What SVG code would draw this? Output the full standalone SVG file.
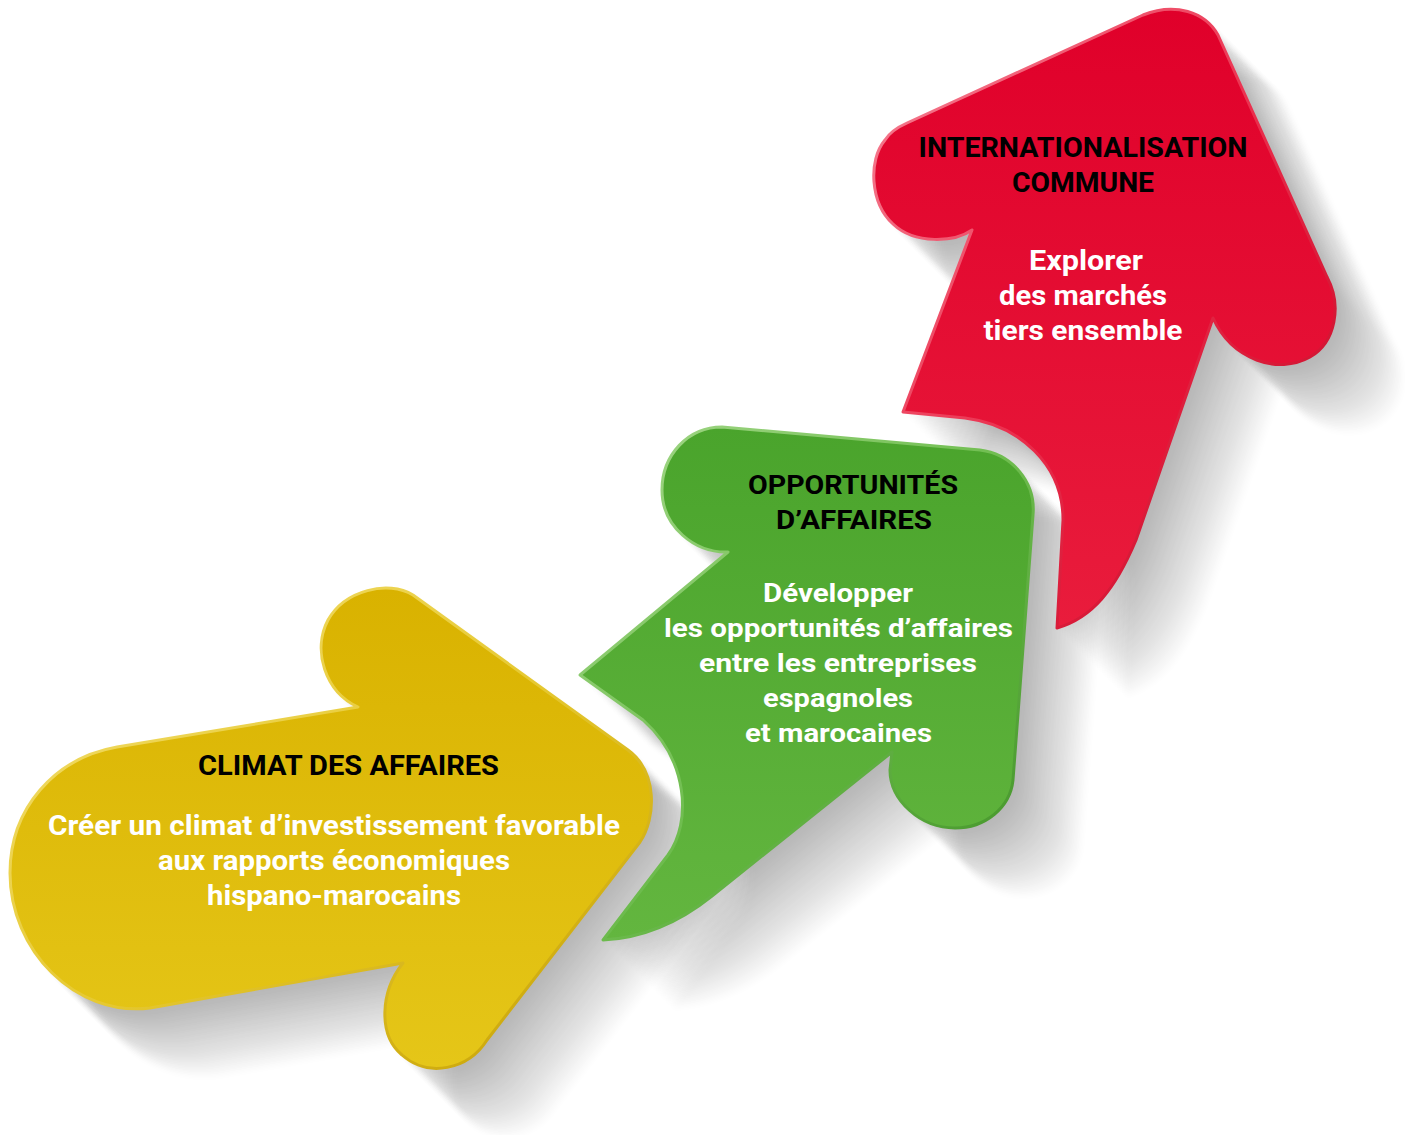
<svg xmlns="http://www.w3.org/2000/svg" xmlns:xlink="http://www.w3.org/1999/xlink" width="1405" height="1135" viewBox="0 0 1405 1135">
<style>
.t{font-family:Roboto,"Liberation Sans",sans-serif;font-weight:bold;text-anchor:middle}
.h{fill:#000;font-size:27px}
.b{fill:#fff;font-size:27px}
.gh{fill:#000;font-size:26px}
.gb{fill:#fff;font-size:26px}
</style>
<defs>
<filter id="shadow" x="-10%" y="-10%" width="140%" height="140%" color-interpolation-filters="sRGB">
<feGaussianBlur in="SourceAlpha" stdDeviation="3" result="b"/>
<feComponentTransfer in="b" result="a"><feFuncA type="linear" slope="0.026"/></feComponentTransfer>
<feOffset in="a" dx="3" dy="3" result="o1"/>
<feOffset in="a" dx="8" dy="8" result="o2"/>
<feOffset in="a" dx="13" dy="13" result="o3"/>
<feOffset in="a" dx="18" dy="18" result="o4"/>
<feOffset in="a" dx="23" dy="23" result="o5"/>
<feOffset in="a" dx="28" dy="28" result="o6"/>
<feOffset in="a" dx="33" dy="33" result="o7"/>
<feOffset in="a" dx="38" dy="38" result="o8"/>
<feOffset in="a" dx="43" dy="43" result="o9"/>
<feOffset in="a" dx="48" dy="48" result="o10"/>
<feOffset in="a" dx="53" dy="53" result="o11"/>
<feOffset in="a" dx="58" dy="58" result="o12"/>
<feOffset in="a" dx="63" dy="63" result="o13"/>
<feOffset in="a" dx="68" dy="68" result="o14"/>
<feMerge><feMergeNode in="o14"/><feMergeNode in="o13"/><feMergeNode in="o12"/><feMergeNode in="o11"/><feMergeNode in="o10"/><feMergeNode in="o9"/><feMergeNode in="o8"/><feMergeNode in="o7"/><feMergeNode in="o6"/><feMergeNode in="o5"/><feMergeNode in="o4"/><feMergeNode in="o3"/><feMergeNode in="o2"/><feMergeNode in="o1"/></feMerge>
</filter>
<linearGradient id="yf" x1="0" y1="0" x2="0" y2="1"><stop offset="0" stop-color="#d9b200"/><stop offset="1" stop-color="#e5c618"/></linearGradient>
<linearGradient id="ys" x1="0" y1="0" x2="1" y2="1"><stop offset="0" stop-color="#f5e27a"/><stop offset="0.5" stop-color="#e6c932"/><stop offset="1" stop-color="#c49e00"/></linearGradient>
<linearGradient id="gf" x1="0" y1="0" x2="0" y2="1"><stop offset="0" stop-color="#4aa42c"/><stop offset="1" stop-color="#63b63f"/></linearGradient>
<linearGradient id="gs" x1="0" y1="0" x2="1" y2="1"><stop offset="0" stop-color="#a6d98c"/><stop offset="0.5" stop-color="#6fbd4f"/><stop offset="1" stop-color="#3b8c22"/></linearGradient>
<linearGradient id="rf" x1="0" y1="0" x2="0" y2="1"><stop offset="0" stop-color="#e0002a"/><stop offset="1" stop-color="#e91c3c"/></linearGradient>
<linearGradient id="rs" x1="0" y1="0" x2="1" y2="1"><stop offset="0" stop-color="#f7889a"/><stop offset="0.5" stop-color="#ea2e4c"/><stop offset="1" stop-color="#c0001e"/></linearGradient>
<path id="py" d="M358,707 L117,747 C55,758 10,808 10,873 C10,950 75,1017 150,1008 L403,963 C380,992 378,1035 402,1055 C428,1078 468,1070 487,1040 L640,842 C656,818 658,772 628,750 L413,595 C388,580 345,590 328,620 C312,650 325,692 358,707 Z"/>
<path id="pg" d="M580,675 L728,552 C695,553 662,527 662,490 C662,455 688,427 722,427 L980,450 C1012,454 1036,482 1033,515 L1013,780 C1010,808 985,828 955,828 C920,828 890,800 890,770 L892,752 L712,896 C682,920 645,938 603,940 L668,855 C692,822 688,760 643,720 Z"/>
<path id="pr" d="M972,230 C955,242 915,245 893,224 C870,203 868,160 885,140 C890,132 898,127 907,123 L1143,15 C1175,2 1205,12 1218,35 L1327,277 C1342,305 1336,342 1310,357 C1278,375 1232,360 1213,318 L1136,540 C1115,590 1092,618 1057,628 L1063,520 C1063,465 1020,425 965,418 L903,412 Z"/>
</defs>
<g id="shadows">
<use xlink:href="#pr" href="#pr" filter="url(#shadow)"/>
<use xlink:href="#pg" href="#pg" filter="url(#shadow)"/>
<use xlink:href="#py" href="#py" filter="url(#shadow)"/>
</g>
<g id="connectors"></g>
<g id="node-internationalisation">
<use xlink:href="#pr" href="#pr" fill="url(#rf)" stroke="url(#rs)" stroke-width="3" stroke-linejoin="round"/>
<text class="t h" x="1083" y="157" textLength="329" lengthAdjust="spacingAndGlyphs">INTERNATIONALISATION</text>
<text class="t h" x="1083" y="192" textLength="142" lengthAdjust="spacingAndGlyphs">COMMUNE</text>
<text class="t b" x="1086" y="270" textLength="114" lengthAdjust="spacingAndGlyphs">Explorer</text>
<text class="t b" x="1083" y="305" textLength="168" lengthAdjust="spacingAndGlyphs">des marchés</text>
<text class="t b" x="1083" y="340" textLength="199" lengthAdjust="spacingAndGlyphs">tiers ensemble</text>
</g>
<g id="node-opportunites">
<use xlink:href="#pg" href="#pg" fill="url(#gf)" stroke="url(#gs)" stroke-width="3" stroke-linejoin="round"/>
<text class="t gh" x="853" y="494" textLength="210" lengthAdjust="spacingAndGlyphs">OPPORTUNITÉS</text>
<text class="t gh" x="854" y="529" textLength="156" lengthAdjust="spacingAndGlyphs">D’AFFAIRES</text>
<text class="t gb" x="838" y="602" textLength="150" lengthAdjust="spacingAndGlyphs">Développer</text>
<text class="t gb" x="838.5" y="637" textLength="349" lengthAdjust="spacingAndGlyphs">les opportunités d’affaires</text>
<text class="t gb" x="838" y="672" textLength="278" lengthAdjust="spacingAndGlyphs">entre les entreprises</text>
<text class="t gb" x="838" y="707" textLength="150" lengthAdjust="spacingAndGlyphs">espagnoles</text>
<text class="t gb" x="838.5" y="742" textLength="187" lengthAdjust="spacingAndGlyphs">et marocaines</text>
</g>
<g id="node-climat">
<use xlink:href="#py" href="#py" fill="url(#yf)" stroke="url(#ys)" stroke-width="3" stroke-linejoin="round"/>
<text class="t h" x="348.5" y="775" textLength="301" lengthAdjust="spacingAndGlyphs">CLIMAT DES AFFAIRES</text>
<text class="t b" x="334" y="835" textLength="572" lengthAdjust="spacingAndGlyphs">Créer un climat d’investissement favorable</text>
<text class="t b" x="334" y="870" textLength="352" lengthAdjust="spacingAndGlyphs">aux rapports économiques</text>
<text class="t b" x="334" y="905" textLength="254" lengthAdjust="spacingAndGlyphs">hispano-marocains</text>
</g>
</svg>
